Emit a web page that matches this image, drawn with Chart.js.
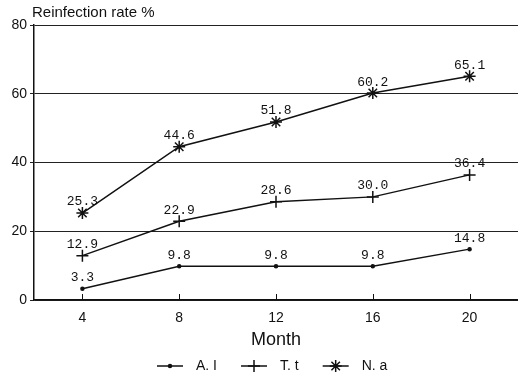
<!DOCTYPE html>
<html>
<head>
<meta charset="utf-8">
<script src="https://cdn.jsdelivr.net/npm/chart.js@4/dist/chart.umd.min.js"></script>
<style>
  html, body { margin: 0; padding: 0; background: #fff; }
  #wrap { width: 518px; height: 375px; }
</style>
</head>
<body>
<div id="wrap"><canvas id="rateChart" width="518" height="375"></canvas></div>
<script>
const months = [4, 8, 12, 16, 20];
const seriesNames = ["A. I", "T. t", "N. a"];
const aiValues = [3.3, 9.8, 9.8, 9.8, 14.8];
const ttValues = [12.9, 22.9, 28.6, 30.0, 36.4];
const naValues = [25.3, 44.6, 51.8, 60.2, 65.1];
const yTicks = [0, 20, 40, 60, 80];

const ink = "#111";

function toPoints(values) {
    return values.map((v, i) => ({ x: months[i], y: v }));
}

// value labels, x ticks drawn inward, y title and bottom legend
const extras = {
    id: "extras",
    afterDatasetsDraw(chart) {
        const ctx = chart.ctx;
        const area = chart.chartArea;
        const xs = chart.scales.x;

        ctx.save();
        ctx.strokeStyle = ink;
        ctx.lineWidth = 1;
        months.forEach(m => {
            const px = Math.round(xs.getPixelForValue(m)) + 0.5;
            ctx.beginPath();
            ctx.moveTo(px, area.bottom);
            ctx.lineTo(px, area.bottom - 6);
            ctx.stroke();
        });

        ctx.fillStyle = ink;
        ctx.font = "13px 'Liberation Mono', 'DejaVu Sans Mono', monospace";
        ctx.textAlign = "center";
        ctx.textBaseline = "middle";
        chart.data.datasets.forEach((ds, di) => {
            const meta = chart.getDatasetMeta(di);
            meta.data.forEach((pt, i) => {
                ctx.fillText(ds.data[i].y.toFixed(1), pt.x, pt.y - 11);
            });
        });

        ctx.font = "15px 'Liberation Sans', Arial, sans-serif";
        ctx.textAlign = "left";
        ctx.fillText("Reinfection rate %", area.left - 2, 13);

        // legend
        ctx.font = "14px 'Liberation Sans', Arial, sans-serif";
        const ly = 366;
        let lx = 157;
        chart.data.datasets.forEach(ds => {
            ctx.strokeStyle = ink;
            ctx.lineWidth = 1.5;
            ctx.beginPath();
            ctx.moveTo(lx, ly);
            ctx.lineTo(lx + 26, ly);
            ctx.stroke();
            Chart.helpers.drawPoint(ctx, {
                pointStyle: ds.pointStyle,
                radius: ds.pointRadius,
                borderWidth: 1.5
            }, lx + 13, ly);
            ctx.fillStyle = ink;
            ctx.fillText(ds.label, lx + 39, ly);
            lx += 39 + ctx.measureText(ds.label).width + 24;
        });
        ctx.restore();
    }
};

const makeSet = (label, values, style, radius) => ({
    label: label,
    data: toPoints(values),
    borderColor: ink,
    backgroundColor: ink,
    borderWidth: 1.5,
    pointStyle: style,
    pointRadius: radius,
    pointBorderColor: ink,
    pointBackgroundColor: ink,
    pointBorderWidth: 1.5,
    tension: 0
});

new Chart(document.getElementById("rateChart"), {
    type: "line",
    data: {
        datasets: [
            makeSet(seriesNames[0], aiValues, "circle", 1.5),
            makeSet(seriesNames[1], ttValues, "cross", 6),
            makeSet(seriesNames[2], naValues, "star", 6)
        ]
    },
    options: {
        responsive: false,
        animation: false,
        layout: { autoPadding: false, padding: { top: 25, right: 0, bottom: 22, left: 0 } },
        plugins: {
            legend: { display: false },
            tooltip: { enabled: false }
        },
        scales: {
            x: {
                type: "linear",
                min: 2,
                max: 22,
                afterFit: s => { s.height = 53; },
                afterBuildTicks: s => { s.ticks = months.map(v => ({ value: v })); },
                grid: { display: false },
                border: { display: true, color: ink, width: 1.5 },
                ticks: {
                    color: ink,
                    padding: 2,
                    font: { family: "'Liberation Sans', Arial, sans-serif", size: 14 }
                },
                title: {
                    display: true,
                    text: "Month",
                    color: ink,
                    padding: { top: 0, bottom: 2 },
                    font: { family: "'Liberation Sans', Arial, sans-serif", size: 18 }
                }
            },
            y: {
                min: 0,
                max: 80,
                afterFit: s => { s.width = 34; },
                afterBuildTicks: s => { s.ticks = yTicks.map(v => ({ value: v })); },
                grid: { color: "#222", lineWidth: 1, tickLength: 4 },
                border: { display: true, color: ink, width: 1.5 },
                ticks: {
                    color: ink,
                    padding: 3,
                    font: { family: "'Liberation Sans', Arial, sans-serif", size: 14 }
                }
            }
        }
    },
    plugins: [extras]
});
</script>
</body>
</html>
